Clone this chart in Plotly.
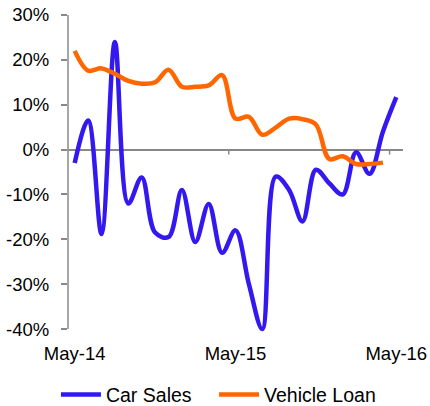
import plotly.graph_objects as go

months = ["May-14", "Jun-14", "Jul-14", "Aug-14", "Sep-14", "Oct-14", "Nov-14", "Dec-14",
          "Jan-15", "Feb-15", "Mar-15", "Apr-15", "May-15", "Jun-15", "Jul-15", "Aug-15",
          "Sep-15", "Oct-15", "Nov-15", "Dec-15", "Jan-16", "Feb-16", "Mar-16", "Apr-16", "May-16"]

car_sales = [-3.0, 6.5, -18.8, 24.0, -12.0, -6.2, -18.5, -19.5, -9.0, -20.6, -12.1, -23.0,
             -18.0, -30.0, -40.0, -6.0, -9.0, -16.0, -4.5, -7.5, -10.0, -0.6, -5.4, 4.0, 11.7]

vehicle_loan = [22.0, 17.6, 18.1, 16.9, 15.3, 14.7, 15.0, 17.8, 14.0, 14.0, 14.3, 16.6,
                6.9, 7.3, 3.3, 4.9, 6.9, 6.8, 5.6, -2.1, -1.5, -3.2, -3.2, -2.9]

y_ticks = [-40, -30, -20, -10, 0, 10, 20, 30]
y_tick_text = ["-40%", "-30%", "-20%", "-10%", "0%", "10%", "20%", "30%"]
x_label_idx = [0, 12, 24]
x_labels = ["May-14", "May-15", "May-16"]

FONT = "Liberation Sans, Arial, sans-serif"
AXIS_COLOR = "#888888"

fig = go.Figure()
fig.add_trace(go.Scatter(
    x=list(range(len(car_sales))), y=car_sales, name="Car Sales", mode="lines",
    line=dict(color="#3319F0", width=4.5, shape="spline", smoothing=1.0),
    legend="legend",
))
fig.add_trace(go.Scatter(
    x=list(range(len(vehicle_loan))), y=vehicle_loan, name="Vehicle Loan", mode="lines",
    line=dict(color="#FF6600", width=4.5, shape="spline", smoothing=1.0),
    legend="legend2",
))

# small tick marks hanging from the zero line at category boundaries
for b in [11.5, 23.5]:
    fig.add_shape(type="line", xref="x", yref="y", x0=b, x1=b,
                  ysizemode="pixel", yanchor=0, y0=0, y1=-5,
                  line=dict(color=AXIS_COLOR, width=1.5))
# vertical axis line from -40% to 30%
fig.add_shape(type="line", xref="paper", yref="y", x0=0, x1=0, y0=-40, y1=30,
              line=dict(color=AXIS_COLOR, width=1.5))

legend_common = dict(orientation="h", yanchor="middle", y=-0.191, xanchor="left",
                     font=dict(size=19.5, family=FONT), itemwidth=40,
                     bgcolor="rgba(0,0,0,0)")

fig.update_layout(
    width=430, height=406,
    margin=dict(l=68, r=27, t=15, b=72, autoexpand=False),
    paper_bgcolor="white", plot_bgcolor="white",
    font=dict(family=FONT, size=18.5, color="black"),
    showlegend=True,
    legend=dict(x=-0.036, **legend_common),
    legend2=dict(x=0.436, **legend_common),
    xaxis=dict(range=[-0.5, 24.5], tickmode="array", tickvals=x_label_idx, ticktext=x_labels,
               showgrid=False, zeroline=False, showline=False, ticks="",
               ticklabelstandoff=6, fixedrange=True),
    yaxis=dict(range=[-41.1, 30], tickmode="array", tickvals=y_ticks, ticktext=y_tick_text,
               showgrid=False, zeroline=True, zerolinecolor=AXIS_COLOR, zerolinewidth=1.5,
               showline=False,
               ticks="outside", ticklen=6, tickcolor=AXIS_COLOR, tickwidth=1.5,
               ticklabelstandoff=8, fixedrange=True),
)

fig.write_html("out.html", config={"displayModeBar": False},
               post_script="document.body.style.margin='0';document.body.style.padding='0';")
